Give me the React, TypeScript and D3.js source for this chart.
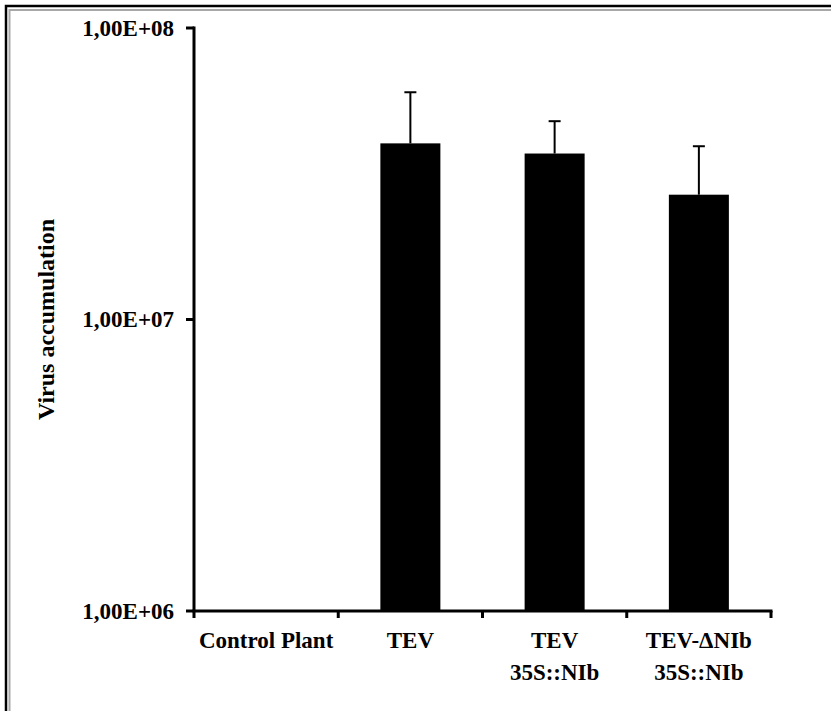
import React, { useEffect } from "react";
import * as d3 from "d3";

const categories: string[][] = [
  ["Control Plant"],
  ["TEV"],
  ["TEV", "35S::NIb"],
  ["TEV-ΔNIb", "35S::NIb"],
];
const values: (number | null)[] = [null, 4.02e7, 3.71e7, 2.68e7];
const errors: number[] = [0, 2.0e7, 1.08e7, 1.25e7];
const yTicks: number[] = [1e6, 1e7, 1e8];
const yTickLabels: string[] = ["1,00E+06", "1,00E+07", "1,00E+08"];
const yTitle = "Virus accumulation";

const W = 831;
const H = 711;
const left = 194;
const right = 771;
const top = 28;
const bottom = 611;
const FONT = "'Liberation Serif', 'DejaVu Serif', serif";

export default function App() {
  useEffect(() => {
    document.body.style.margin = "0";
  }, []);

  const x = d3
    .scaleBand<number>()
    .domain(categories.map((_, i) => i))
    .range([left, right])
    .padding(0);
  const y = d3.scaleLog().domain([1e6, 1e8]).range([bottom, top]);
  const barW = x.bandwidth() * 0.416;

  const boundaries = d3.range(categories.length + 1).map((i) => left + i * x.step());

  return (
    <svg width={W} height={H} style={{ display: "block" }} fontFamily={FONT}>
      <rect width={W} height={H} fill="#fff" />
      {/* double frame */}
      <path d={`M6,${H + 5} V6 H${W + 5}`} fill="none" stroke="#000" strokeWidth={2.5} />
      <path d={`M9.5,${H + 5} V10 H${W + 5}`} fill="none" stroke="#a8a8a8" strokeWidth={2} />

      {/* bars */}
      {values.map((v, i) =>
        v == null ? null : (
          <rect
            key={`b${i}`}
            x={x(i)! + x.bandwidth() / 2 - barW / 2}
            y={y(v)}
            width={barW}
            height={bottom - y(v)}
            fill="#000"
          />
        )
      )}
      {/* error bars */}
      {values.map((v, i) => {
        if (v == null || !errors[i]) return null;
        const cx = x(i)! + x.bandwidth() / 2;
        const yt = y(v + errors[i]);
        return (
          <g key={`e${i}`} stroke="#000" strokeWidth={2}>
            <line x1={cx} x2={cx} y1={y(v)} y2={yt} />
            <line x1={cx - 6} x2={cx + 6} y1={yt} y2={yt} />
          </g>
        );
      })}

      {/* axes */}
      <g stroke="#000" strokeWidth={3} fill="none">
        <line x1={left} x2={left} y1={top - 1.5} y2={bottom} />
        <line x1={left - 1.5} x2={right + 1.5} y1={bottom} y2={bottom} />
        {yTicks.map((t) => (
          <line key={`yt${t}`} x1={left - 8} x2={left} y1={y(t)} y2={y(t)} />
        ))}
        {boundaries.map((bx, i) => (
          <line key={`xt${i}`} x1={bx} x2={bx} y1={bottom} y2={bottom + 7} />
        ))}
      </g>

      {/* y tick labels */}
      {yTicks.map((t, i) => (
        <text
          key={`yl${t}`}
          x={174}
          y={y(t)}
          dy="0.33em"
          textAnchor="end"
          fontWeight="bold"
          fontSize={23}
        >
          {yTickLabels[i]}
        </text>
      ))}

      {/* category labels */}
      {categories.map((lines, i) => (
        <text
          key={`c${i}`}
          x={x(i)! + x.bandwidth() / 2}
          y={648}
          textAnchor="middle"
          fontWeight="bold"
          fontSize={23}
        >
          {lines.map((l, j) => (
            <tspan key={j} x={x(i)! + x.bandwidth() / 2} dy={j === 0 ? 0 : 32}>
              {l}
            </tspan>
          ))}
        </text>
      ))}

      {/* y title */}
      <text
        transform={`translate(54,${(top + bottom) / 2}) rotate(-90)`}
        textAnchor="middle"
        fontWeight="bold"
        fontSize={24}
      >
        {yTitle}
      </text>
    </svg>
  );
}
